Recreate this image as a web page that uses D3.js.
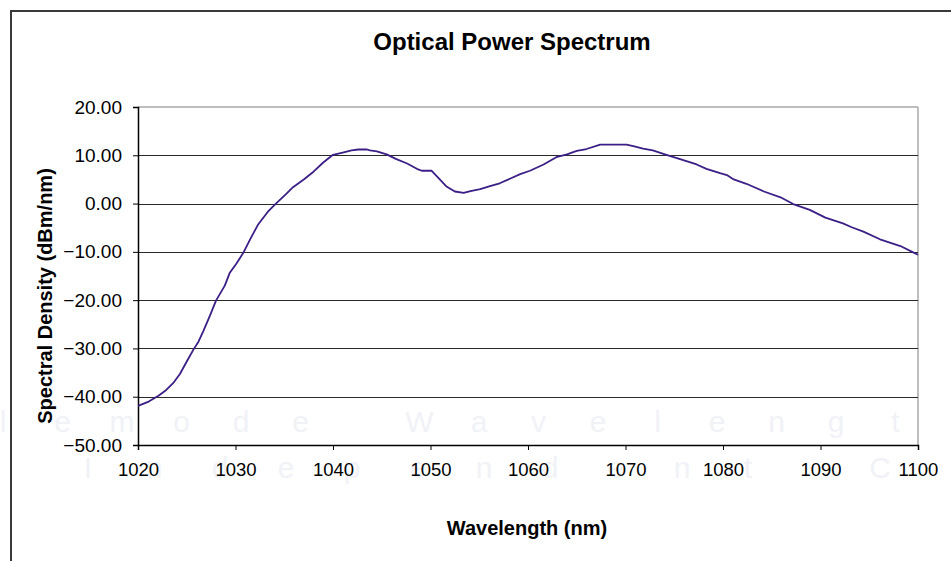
<!DOCTYPE html>
<html>
<head>
<meta charset="utf-8">
<script src="https://cdn.jsdelivr.net/npm/d3@7"></script>
<style>
  body { margin: 0; background: #fff; }
  text { font-family: "Liberation Sans", Arial, sans-serif; }
</style>
</head>
<body>
<script>
// data
var wavelength = [1020.0, 1021.1, 1022.1, 1022.9, 1023.6, 1024.3, 1025.0, 1025.7, 1026.2, 1026.7,
  1027.4, 1028.0, 1028.9, 1029.4, 1030.1, 1030.8, 1031.5, 1032.3, 1033.4, 1034.2,
  1035.1, 1035.9, 1037.0, 1038.0, 1039.0, 1040.0, 1041.1, 1041.9, 1042.6, 1043.5,
  1043.8, 1044.5, 1045.5, 1046.5, 1047.6, 1048.6, 1049.1, 1050.1, 1051.0, 1051.6,
  1052.5, 1053.4, 1054.1, 1055.1, 1056.1, 1057.1, 1058.2, 1059.2, 1060.2, 1061.6,
  1062.9, 1064.0, 1065.0, 1066.0, 1067.4, 1070.1, 1070.8, 1071.8, 1072.8, 1074.2,
  1075.6, 1077.3, 1078.3, 1079.7, 1080.4, 1081.1, 1082.4, 1084.2, 1085.9, 1087.2,
  1088.9, 1090.5, 1092.3, 1093.2, 1094.4, 1096.1, 1098.2, 1099.4, 1100.0];
var density = [-41.9, -41.0, -39.8, -38.6, -37.2, -35.3, -32.7, -30.2, -28.6, -26.4,
  -23.1, -20.1, -17.0, -14.4, -12.4, -10.2, -7.4, -4.4, -1.5, 0.1,
  1.8, 3.4, 5.0, 6.6, 8.5, 10.1, 10.6, 11.0, 11.2, 11.2,
  11.0, 10.8, 10.2, 9.2, 8.3, 7.2, 6.8, 6.8, 4.9, 3.6,
  2.5, 2.2, 2.6, 3.0, 3.6, 4.2, 5.2, 6.1, 6.8, 8.1,
  9.6, 10.2, 10.9, 11.3, 12.2, 12.2, 11.9, 11.4, 11.0, 10.1,
  9.2, 8.1, 7.2, 6.3, 5.9, 5.0, 4.1, 2.5, 1.3, -0.1,
  -1.3, -2.9, -4.1, -4.9, -5.8, -7.4, -8.8, -10.0, -10.6];
var xTicks = [1020, 1030, 1040, 1050, 1060, 1070, 1080, 1090, 1100];
var yTicks = [-50, -40, -30, -20, -10, 0, 10, 20];

var W = 951, H = 561;
var mLeft = 138, mRight = 918, mTop = 107, mBottom = 445;

var svg = d3.select("body").append("svg").attr("width", W).attr("height", H);

// outer chart border (only top and left are inside the picture)
svg.append("rect")
  .attr("x", 11).attr("y", 11).attr("width", 1200).attr("height", 800)
  .attr("fill", "#fff").attr("stroke", "#3a3a3a").attr("stroke-width", 2);

// faint watermark behind the plot
var wm1 = "lemode Wavelengt".split("");
svg.append("g").selectAll("text").data(wm1).enter().append("text")
  .attr("x", function(d, i) { return 3 + i * 59.5; })
  .attr("y", 432)
  .attr("text-anchor", "middle")
  .style("font-size", "30px")
  .style("fill", "#f1f2f7")
  .text(function(d) { return d; });
var wm2 = "Independent C".split("");
svg.append("g").selectAll("text").data(wm2).enter().append("text")
  .attr("x", function(d, i) { return 88 + i * 66; })
  .attr("y", 478)
  .attr("text-anchor", "middle")
  .style("font-size", "30px")
  .style("fill", "#f1f2f7")
  .text(function(d) { return d; });

var x = d3.scaleLinear().domain([1020, 1100]).range([mLeft, mRight]);
var y = d3.scaleLinear().domain([-50, 20]).range([mBottom, mTop]);

// plot frame (top and right in grey)
svg.append("line").attr("x1", mLeft).attr("y1", mTop).attr("x2", mRight).attr("y2", mTop)
  .attr("stroke", "#a8a8a8").attr("stroke-width", 1.5);
svg.append("line").attr("x1", mRight).attr("y1", mTop).attr("x2", mRight).attr("y2", mBottom)
  .attr("stroke", "#a8a8a8").attr("stroke-width", 1.5);

// horizontal gridlines
svg.append("g").selectAll("line").data(yTicks.filter(function(v) { return v > -50 && v < 20; }))
  .enter().append("line")
  .attr("x1", mLeft).attr("x2", mRight)
  .attr("y1", function(d) { return Math.round(y(d)) + 0.5; })
  .attr("y2", function(d) { return Math.round(y(d)) + 0.5; })
  .attr("stroke", "#2a2a2a").attr("stroke-width", 1);

// y axis
var yAxis = svg.append("g")
  .attr("transform", "translate(" + mLeft + ",0)")
  .call(d3.axisLeft(y).tickValues(yTicks).tickSize(5).tickPadding(11)
    .tickFormat(function(d) { return d3.format(".2f")(d); }));
yAxis.select(".domain").attr("stroke", "#000").attr("stroke-width", 1.5);
yAxis.selectAll(".tick line").attr("stroke", "#000");
yAxis.selectAll(".tick text").style("font-size", "19px").style("font-family", "Liberation Sans, Arial, sans-serif").attr("fill", "#000");

// x axis
var xAxis = svg.append("g")
  .attr("transform", "translate(0," + mBottom + ")")
  .call(d3.axisBottom(x).tickValues(xTicks).tickSize(5).tickPadding(13)
    .tickFormat(d3.format("d")));
xAxis.select(".domain").attr("stroke", "#000").attr("stroke-width", 1.5);
xAxis.selectAll(".tick line").attr("stroke", "#000");
xAxis.selectAll(".tick text").style("font-size", "18.5px").style("font-family", "Liberation Sans, Arial, sans-serif").attr("fill", "#000");

// spectrum line
var pts = wavelength.map(function(w, i) { return [w, density[i]]; });
svg.append("path")
  .datum(pts)
  .attr("fill", "none")
  .attr("stroke", "#3b1f86")
  .attr("stroke-width", 1.8)
  .attr("stroke-linejoin", "round")
  .attr("d", d3.line().x(function(d) { return x(d[0]); }).y(function(d) { return y(d[1]); }));

// titles
svg.append("text")
  .attr("x", 512).attr("y", 50)
  .attr("text-anchor", "middle")
  .style("font-size", "24px").style("font-weight", "bold")
  .text("Optical Power Spectrum");

svg.append("text")
  .attr("x", 527).attr("y", 535)
  .attr("text-anchor", "middle")
  .style("font-size", "20px").style("font-weight", "bold")
  .text("Wavelength (nm)");

svg.append("text")
  .attr("transform", "translate(52,296) rotate(-90)")
  .attr("text-anchor", "middle")
  .style("font-size", "20px").style("font-weight", "bold")
  .text("Spectral Density (dBm/nm)");
</script>
</body>
</html>
